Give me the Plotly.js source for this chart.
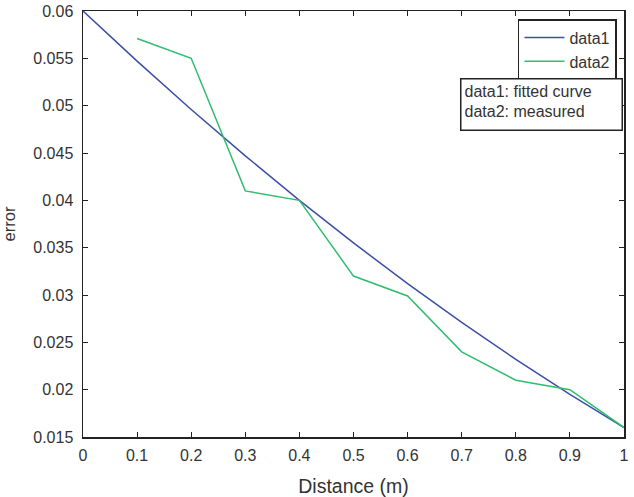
<!DOCTYPE html>
<html>
<head>
<meta charset="utf-8">
<script src="https://cdn.plot.ly/plotly-3.0.1.min.js"></script>
<style>html,body{margin:0;padding:0;background:#fff;}#chart{width:634px;height:497px;}</style>
</head>
<body>
<div id="chart"></div>
<script>
const xFit = [0, 0.1, 0.2, 0.3, 0.4, 0.5, 0.6, 0.7, 0.8, 0.9, 1.0];
const yFit = [0.0600, 0.0547, 0.0496, 0.0447, 0.0400, 0.0355, 0.0312, 0.0271, 0.0232, 0.0195, 0.0160];
const xMeas = [0.1, 0.2, 0.3, 0.4, 0.5, 0.6, 0.7, 0.8, 0.9, 1.0];
const yMeas = [0.0571, 0.0550, 0.0410, 0.0400, 0.0320, 0.0299, 0.0240, 0.0210, 0.0200, 0.0160];
const xTicks = [0, 0.1, 0.2, 0.3, 0.4, 0.5, 0.6, 0.7, 0.8, 0.9, 1];
const xTickText = ["0", "0.1", "0.2", "0.3", "0.4", "0.5", "0.6", "0.7", "0.8", "0.9", "1"];
const yTicks = [0.015, 0.02, 0.025, 0.03, 0.035, 0.04, 0.045, 0.05, 0.055, 0.06];
const yTickText = ["0.015", "0.02", "0.025", "0.03", "0.035", "0.04", "0.045", "0.05", "0.055", "0.06"];
const seriesNames = ["data1", "data2"];
const noteText = "data1: fitted curve<br>data2: measured";

const font = "Liberation Sans, Arial, sans-serif";
const traces = [
  {x: xFit, y: yFit, type: "scatter", mode: "lines", name: seriesNames[0],
   line: {color: "#3b4fa5", width: 1.5}},
  {x: xMeas, y: yMeas, type: "scatter", mode: "lines", name: seriesNames[1],
   line: {color: "#2fbd6f", width: 1.5}}
];
const axisCommon = {
  showgrid: false, zeroline: false, showline: true, linecolor: "#222", linewidth: 1.5,
  mirror: "ticks", ticks: "inside", ticklen: 5, tickcolor: "#222", tickwidth: 1,
  tickfont: {family: font, size: 16, color: "#333"}
};
const layout = {
  width: 634, height: 497,
  margin: {l: 83, r: 10, t: 11, b: 60},
  paper_bgcolor: "#fff", plot_bgcolor: "#fff",
  font: {family: font, color: "#333"},
  showlegend: true,
  legend: {x: 0.987, y: 0.981, xanchor: "right", yanchor: "top",
    bordercolor: "#222", borderwidth: 1.5, bgcolor: "#fff",
    font: {family: font, size: 16, color: "#333"}, itemwidth: 40, tracegroupgap: 0},
  xaxis: Object.assign({}, axisCommon, {range: [0, 1], tickmode: "array", tickvals: xTicks, ticktext: xTickText,
    ticklabelstandoff: 3,
    title: {text: "Distance (m)", font: {family: font, size: 19.5, color: "#333"}, standoff: 18}}),
  yaxis: Object.assign({}, axisCommon, {range: [0.015, 0.06], tickmode: "array", tickvals: yTicks, ticktext: yTickText,
    ticklabelstandoff: 5,
    title: {text: "error", font: {family: font, size: 16.5, color: "#333"}, standoff: 14}}),
  annotations: [{
    xref: "paper", yref: "paper", x: 0.998, y: 0.842, xanchor: "right", yanchor: "top",
    text: noteText, showarrow: false, align: "left", valign: "top",
    width: 154, height: 44, borderpad: 3, bordercolor: "#222", borderwidth: 1.5, bgcolor: "#fff",
    font: {family: font, size: 16, color: "#333"}
  }]
};
Plotly.newPlot("chart", traces, layout, {displayModeBar: false, staticPlot: true});
</script>
</body>
</html>
